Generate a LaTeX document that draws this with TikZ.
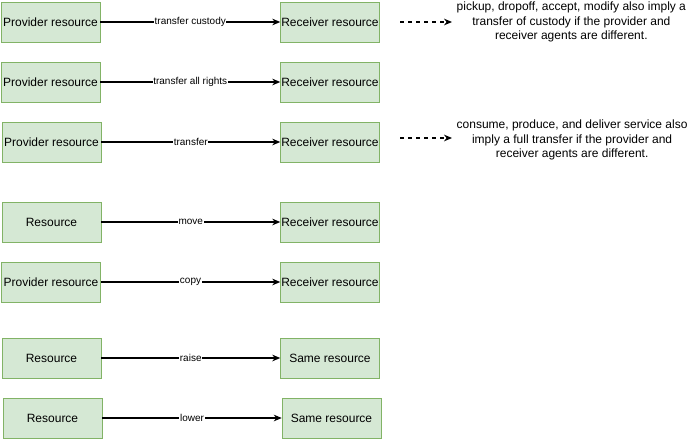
\documentclass[tikz,border=0pt]{standalone}
\usepackage{fontspec}
\setmainfont{Liberation Sans}
\usetikzlibrary{arrows.meta}
\definecolor{boxfill}{HTML}{D5E8D4}
\definecolor{boxline}{HTML}{82B366}
\tikzset{
  res/.style={draw=boxline, fill=boxfill, minimum width=74.25pt, minimum height=30pt,
    inner sep=0pt, font=\fontsize{9}{10}\selectfont},
  link/.style={-{Stealth[length=6pt, width=5pt]}, thick},
  tag/.style={fill=white, inner sep=0.5pt, font=\fontsize{7.5}{8}\selectfont},
  note/.style={align=center, font=\fontsize{9}{11}\selectfont}
}
\begin{document}
\begin{tikzpicture}[x=0.75pt, y=-0.75pt]
  \useasboundingbox (0,0) rectangle (691,439);

  % rows of resources
  \node[res] (p1) at (50.5,22) {Provider resource};
  \node[res] (r1) at (330,22) {Receiver resource};
  \node[res] (p2) at (50.5,82) {Provider resource};
  \node[res] (r2) at (330,82) {Receiver resource};
  \node[res] (p3) at (51.5,142) {Provider resource};
  \node[res] (r3) at (330,142) {Receiver resource};
  \node[res] (p4) at (51.5,222) {Resource};
  \node[res] (r4) at (330,222) {Receiver resource};
  \node[res] (p5) at (51,282) {Provider resource};
  \node[res] (r5) at (330,282) {Receiver resource};
  \node[res] (p6) at (51.5,358) {Resource};
  \node[res] (r6) at (330,358) {Same resource};
  \node[res] (p7) at (52.5,418) {Resource};
  \node[res] (r7) at (331.5,418) {Same resource};

  \foreach \i/\t in {1/transfer custody, 2/transfer all rights, 3/transfer,
                     4/move, 5/copy, 6/raise, 7/lower} {
    \draw[link] (p\i) -- node[tag] {\t} (r\i);
  }

  % notes
  \coordinate (d1) at (400,22);
  \node[note, anchor=west] (n1) at (452,22)
    {pickup, dropoff, accept, modify also imply a\\transfer of custody if the provider and\\receiver agents are different.};
  \draw[link, dashed] (d1) -- (n1.west);
  \coordinate (d3) at (400,138);
  \node[note, anchor=west] (n3) at (452,140)
    {consume, produce, and deliver service also\\imply a full transfer if the provider and\\receiver agents are different.};
  \draw[link, dashed] (d3) -- (n3.west |- d3);
\end{tikzpicture}
\end{document}
